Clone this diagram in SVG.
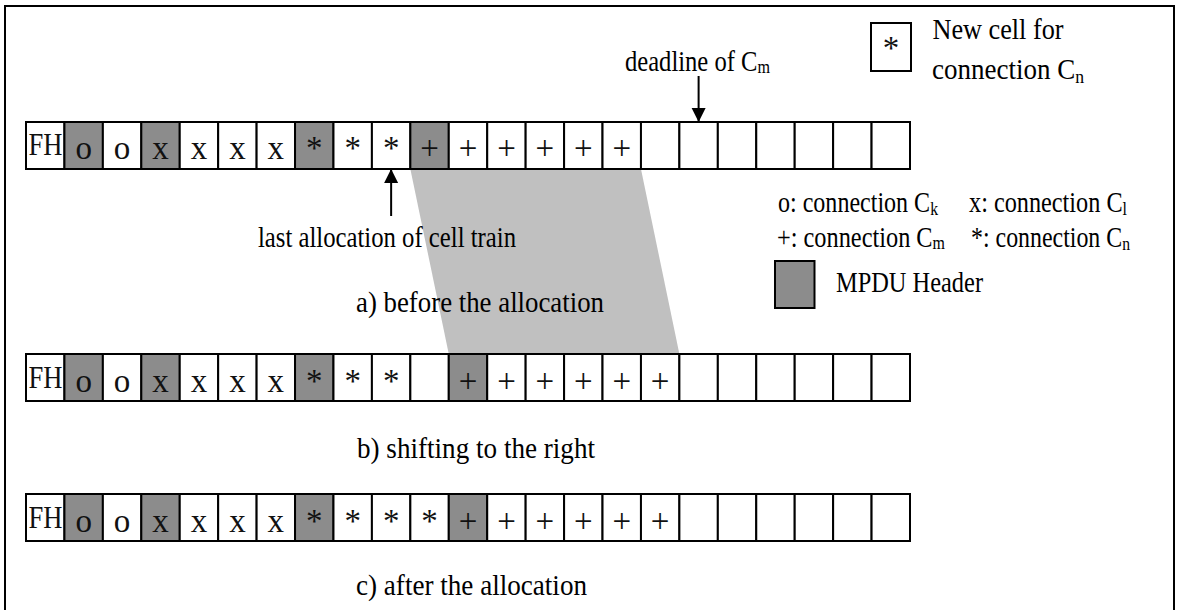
<svg xmlns="http://www.w3.org/2000/svg" width="1180" height="610" viewBox="0 0 1180 610">
<defs>
<style>
.cell{fill:#fff;stroke:#000;stroke-width:2}
.hdr{fill:#8c8c8c;stroke:#000;stroke-width:2}
.g{font-family:"Liberation Serif","Times New Roman",serif;font-size:33px;fill:#111;text-anchor:middle}
.fh{font-family:"Liberation Serif","Times New Roman",serif;font-size:31px;fill:#111}
.lbl{font-family:"Liberation Serif","Times New Roman",serif;font-size:29px;fill:#000}
.sub{font-size:19px}
.arr{stroke:#000;stroke-width:2;fill:none}
</style>
<marker id="ah" markerUnits="userSpaceOnUse" markerWidth="16" markerHeight="16" viewBox="0 0 16 16" refX="14" refY="8" orient="auto">
<path d="M0,1 L14,8 L0,15 Z" fill="#000"/>
</marker>
</defs>
<rect x="5" y="6" width="1169" height="620" fill="#fff" stroke="#000" stroke-width="2"/>
<polygon id="shift-band" points="410.35,169 640.96,169 679.39,354 448.78,354" fill="#c0c0c0"/>

<g id="row-a">
<g id="a0"><rect class="cell" x="26" y="122" width="38.43" height="47"/><text class="fh" x="28.5" y="155" textLength="34" lengthAdjust="spacingAndGlyphs">FH</text></g>
<g id="a1"><rect class="hdr" x="64.43" y="122" width="38.44" height="47"/><text class="g" x="83.65" y="158.5">o</text></g>
<g id="a2"><rect class="cell" x="102.87" y="122" width="38.43" height="47"/><text class="g" x="122.09" y="158.5">o</text></g>
<g id="a3"><rect class="hdr" x="141.3" y="122" width="38.44" height="47"/><text class="g" x="160.52" y="158.5">x</text></g>
<g id="a4"><rect class="cell" x="179.74" y="122" width="38.43" height="47"/><text class="g" x="198.96" y="158.5">x</text></g>
<g id="a5"><rect class="cell" x="218.17" y="122" width="38.44" height="47"/><text class="g" x="237.39" y="158.5">x</text></g>
<g id="a6"><rect class="cell" x="256.61" y="122" width="38.43" height="47"/><text class="g" x="275.83" y="158.5">x</text></g>
<g id="a7"><rect class="hdr" x="295.04" y="122" width="38.44" height="47"/><text class="g" x="314.26" y="158.5">*</text></g>
<g id="a8"><rect class="cell" x="333.48" y="122" width="38.43" height="47"/><text class="g" x="352.7" y="158.5">*</text></g>
<g id="a9"><rect class="cell" x="371.91" y="122" width="38.44" height="47"/><text class="g" x="391.13" y="158.5">*</text></g>
<g id="a10"><rect class="hdr" x="410.35" y="122" width="38.43" height="47"/><text class="g" x="429.57" y="158.5">+</text></g>
<g id="a11"><rect class="cell" x="448.78" y="122" width="38.44" height="47"/><text class="g" x="468" y="158.5">+</text></g>
<g id="a12"><rect class="cell" x="487.22" y="122" width="38.43" height="47"/><text class="g" x="506.44" y="158.5">+</text></g>
<g id="a13"><rect class="cell" x="525.65" y="122" width="38.44" height="47"/><text class="g" x="544.87" y="158.5">+</text></g>
<g id="a14"><rect class="cell" x="564.09" y="122" width="38.43" height="47"/><text class="g" x="583.31" y="158.5">+</text></g>
<g id="a15"><rect class="cell" x="602.52" y="122" width="38.44" height="47"/><text class="g" x="621.74" y="158.5">+</text></g>
<g id="a16"><rect class="cell" x="640.96" y="122" width="38.43" height="47"/></g>
<g id="a17"><rect class="cell" x="679.39" y="122" width="38.44" height="47"/></g>
<g id="a18"><rect class="cell" x="717.83" y="122" width="38.43" height="47"/></g>
<g id="a19"><rect class="cell" x="756.26" y="122" width="38.44" height="47"/></g>
<g id="a20"><rect class="cell" x="794.7" y="122" width="38.43" height="47"/></g>
<g id="a21"><rect class="cell" x="833.13" y="122" width="38.44" height="47"/></g>
<g id="a22"><rect class="cell" x="871.57" y="122" width="38.43" height="47"/></g>
</g>

<g id="row-b">
<g id="b0"><rect class="cell" x="26" y="354" width="38.43" height="47"/><text class="fh" x="28.5" y="388" textLength="34" lengthAdjust="spacingAndGlyphs">FH</text></g>
<g id="b1"><rect class="hdr" x="64.43" y="354" width="38.44" height="47"/><text class="g" x="83.65" y="391.5">o</text></g>
<g id="b2"><rect class="cell" x="102.87" y="354" width="38.43" height="47"/><text class="g" x="122.09" y="391.5">o</text></g>
<g id="b3"><rect class="hdr" x="141.3" y="354" width="38.44" height="47"/><text class="g" x="160.52" y="391.5">x</text></g>
<g id="b4"><rect class="cell" x="179.74" y="354" width="38.43" height="47"/><text class="g" x="198.96" y="391.5">x</text></g>
<g id="b5"><rect class="cell" x="218.17" y="354" width="38.44" height="47"/><text class="g" x="237.39" y="391.5">x</text></g>
<g id="b6"><rect class="cell" x="256.61" y="354" width="38.43" height="47"/><text class="g" x="275.83" y="391.5">x</text></g>
<g id="b7"><rect class="hdr" x="295.04" y="354" width="38.44" height="47"/><text class="g" x="314.26" y="391.5">*</text></g>
<g id="b8"><rect class="cell" x="333.48" y="354" width="38.43" height="47"/><text class="g" x="352.7" y="391.5">*</text></g>
<g id="b9"><rect class="cell" x="371.91" y="354" width="38.44" height="47"/><text class="g" x="391.13" y="391.5">*</text></g>
<g id="b10"><rect class="cell" x="410.35" y="354" width="38.43" height="47"/></g>
<g id="b11"><rect class="hdr" x="448.78" y="354" width="38.44" height="47"/><text class="g" x="468" y="391.5">+</text></g>
<g id="b12"><rect class="cell" x="487.22" y="354" width="38.43" height="47"/><text class="g" x="506.44" y="391.5">+</text></g>
<g id="b13"><rect class="cell" x="525.65" y="354" width="38.44" height="47"/><text class="g" x="544.87" y="391.5">+</text></g>
<g id="b14"><rect class="cell" x="564.09" y="354" width="38.43" height="47"/><text class="g" x="583.31" y="391.5">+</text></g>
<g id="b15"><rect class="cell" x="602.52" y="354" width="38.44" height="47"/><text class="g" x="621.74" y="391.5">+</text></g>
<g id="b16"><rect class="cell" x="640.96" y="354" width="38.43" height="47"/><text class="g" x="660.18" y="391.5">+</text></g>
<g id="b17"><rect class="cell" x="679.39" y="354" width="38.44" height="47"/></g>
<g id="b18"><rect class="cell" x="717.83" y="354" width="38.43" height="47"/></g>
<g id="b19"><rect class="cell" x="756.26" y="354" width="38.44" height="47"/></g>
<g id="b20"><rect class="cell" x="794.7" y="354" width="38.43" height="47"/></g>
<g id="b21"><rect class="cell" x="833.13" y="354" width="38.44" height="47"/></g>
<g id="b22"><rect class="cell" x="871.57" y="354" width="38.43" height="47"/></g>
</g>

<g id="row-c">
<g id="c0"><rect class="cell" x="26" y="494" width="38.43" height="47"/><text class="fh" x="28.5" y="528" textLength="34" lengthAdjust="spacingAndGlyphs">FH</text></g>
<g id="c1"><rect class="hdr" x="64.43" y="494" width="38.44" height="47"/><text class="g" x="83.65" y="531.5">o</text></g>
<g id="c2"><rect class="cell" x="102.87" y="494" width="38.43" height="47"/><text class="g" x="122.09" y="531.5">o</text></g>
<g id="c3"><rect class="hdr" x="141.3" y="494" width="38.44" height="47"/><text class="g" x="160.52" y="531.5">x</text></g>
<g id="c4"><rect class="cell" x="179.74" y="494" width="38.43" height="47"/><text class="g" x="198.96" y="531.5">x</text></g>
<g id="c5"><rect class="cell" x="218.17" y="494" width="38.44" height="47"/><text class="g" x="237.39" y="531.5">x</text></g>
<g id="c6"><rect class="cell" x="256.61" y="494" width="38.43" height="47"/><text class="g" x="275.83" y="531.5">x</text></g>
<g id="c7"><rect class="hdr" x="295.04" y="494" width="38.44" height="47"/><text class="g" x="314.26" y="531.5">*</text></g>
<g id="c8"><rect class="cell" x="333.48" y="494" width="38.43" height="47"/><text class="g" x="352.7" y="531.5">*</text></g>
<g id="c9"><rect class="cell" x="371.91" y="494" width="38.44" height="47"/><text class="g" x="391.13" y="531.5">*</text></g>
<g id="c10"><rect class="cell" x="410.35" y="494" width="38.43" height="47"/><text class="g" x="429.57" y="531.5">*</text></g>
<g id="c11"><rect class="hdr" x="448.78" y="494" width="38.44" height="47"/><text class="g" x="468" y="531.5">+</text></g>
<g id="c12"><rect class="cell" x="487.22" y="494" width="38.43" height="47"/><text class="g" x="506.44" y="531.5">+</text></g>
<g id="c13"><rect class="cell" x="525.65" y="494" width="38.44" height="47"/><text class="g" x="544.87" y="531.5">+</text></g>
<g id="c14"><rect class="cell" x="564.09" y="494" width="38.43" height="47"/><text class="g" x="583.31" y="531.5">+</text></g>
<g id="c15"><rect class="cell" x="602.52" y="494" width="38.44" height="47"/><text class="g" x="621.74" y="531.5">+</text></g>
<g id="c16"><rect class="cell" x="640.96" y="494" width="38.43" height="47"/><text class="g" x="660.18" y="531.5">+</text></g>
<g id="c17"><rect class="cell" x="679.39" y="494" width="38.44" height="47"/></g>
<g id="c18"><rect class="cell" x="717.83" y="494" width="38.43" height="47"/></g>
<g id="c19"><rect class="cell" x="756.26" y="494" width="38.44" height="47"/></g>
<g id="c20"><rect class="cell" x="794.7" y="494" width="38.43" height="47"/></g>
<g id="c21"><rect class="cell" x="833.13" y="494" width="38.44" height="47"/></g>
<g id="c22"><rect class="cell" x="871.57" y="494" width="38.43" height="47"/></g>
</g>

<g id="connectors">
<line class="arr" x1="698.61" y1="76" x2="698.61" y2="122" marker-end="url(#ah)"/>
<line class="arr" x1="391.13" y1="216" x2="391.13" y2="169" marker-end="url(#ah)"/>
</g>

<g id="label-deadline"><text class="lbl" x="625" y="71" textLength="145" lengthAdjust="spacingAndGlyphs">deadline of C<tspan class="sub" dy="2">m</tspan></text></g>
<g id="label-last"><text class="lbl" x="258" y="247" textLength="258" lengthAdjust="spacingAndGlyphs">last allocation of cell train</text></g>
<g id="caption-a"><text class="lbl" x="356" y="312" textLength="248" lengthAdjust="spacingAndGlyphs">a) before the allocation</text></g>
<g id="caption-b"><text class="lbl" x="357" y="458" textLength="238" lengthAdjust="spacingAndGlyphs">b) shifting to the right</text></g>
<g id="caption-c"><text class="lbl" x="356" y="595" textLength="231" lengthAdjust="spacingAndGlyphs">c) after the allocation</text></g>

<g id="legend-new">
<rect class="cell" x="871" y="23" width="40" height="48"/>
<text class="g" x="891" y="59">*</text>
<text class="lbl" x="932.5" y="39" textLength="131" lengthAdjust="spacingAndGlyphs">New cell for</text>
<text class="lbl" x="932" y="79" textLength="152" lengthAdjust="spacingAndGlyphs">connection C<tspan class="sub" dy="4">n</tspan></text>
</g>
<g id="legend-conn">
<text class="lbl" x="778" y="212" textLength="160" lengthAdjust="spacingAndGlyphs">o: connection C<tspan class="sub" dy="3">k</tspan></text>
<text class="lbl" x="969" y="212" textLength="158" lengthAdjust="spacingAndGlyphs">x: connection C<tspan class="sub" dy="3">l</tspan></text>
<text class="lbl" x="777" y="247" textLength="168" lengthAdjust="spacingAndGlyphs">+: connection C<tspan class="sub" dy="2">m</tspan></text>
<text class="lbl" x="971" y="247" textLength="159" lengthAdjust="spacingAndGlyphs">*: connection C<tspan class="sub" dy="3">n</tspan></text>
</g>
<g id="legend-mpdu">
<rect class="hdr" x="775" y="261" width="39.5" height="47"/>
<text class="lbl" x="836" y="292" textLength="147" lengthAdjust="spacingAndGlyphs">MPDU Header</text>
</g>
</svg>
